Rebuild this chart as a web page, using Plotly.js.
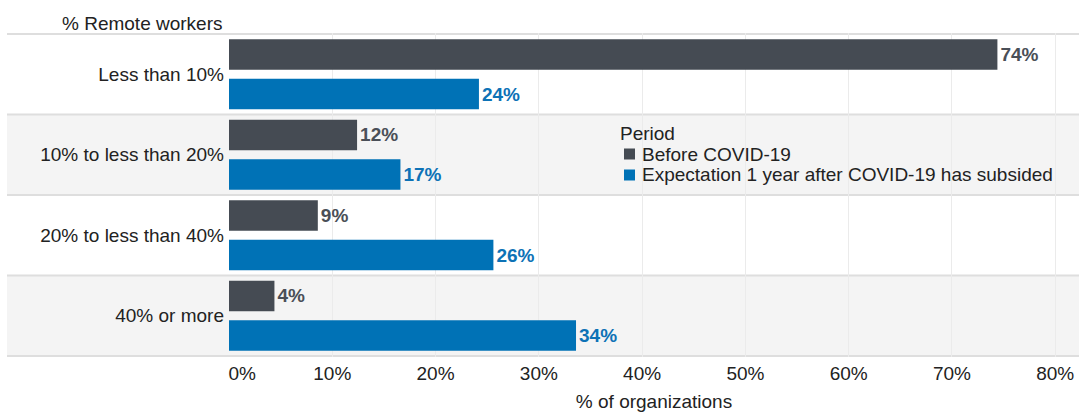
<!DOCTYPE html>
<html>
<head>
<meta charset="utf-8">
<script src="https://cdn.plot.ly/plotly-3.0.1.min.js"></script>
<style>html,body{margin:0;padding:0;background:#fff;}#chart{width:1079px;height:412px;}</style>
</head>
<body>
<div id="chart"></div>
<script>
const categories = ["Less than 10%", "10% to less than 20%", "20% to less than 40%", "40% or more"];
const seriesNames = ["Before COVID-19", "Expectation 1 year after COVID-19 has subsided"];
const beforeValues = [74.4, 12.4, 8.6, 4.4];
const expectValues = [24.2, 16.6, 25.6, 33.6];
const tickValues = [0, 10, 20, 30, 40, 50, 60, 70, 80];
const tickLabels = ["\u00a0\u00a0\u00a0\u00a0\u00a00%", "10%", "20%", "30%", "40%", "50%", "60%", "70%", "80%"];
const legendTitle = "Period";

const FONT = "Liberation Sans, Arial, Helvetica, sans-serif";
const COLORS = ["#454b53", "#0072b6"];
const LABEL_COLORS = ["#4a4f57", "#0d72b6"];

const M = {l: 229, r: 0, t: 33, b: 55};
const PW = 1079 - M.l - M.r, PH = 412 - M.t - M.b;
const px = v => (v - M.l) / PW;
const py = v => 1 - (v - M.t) / PH;

const seriesValues = [beforeValues, expectValues];
const traces = seriesNames.map((name, k) => ({
  type: "bar", orientation: "h", name: name,
  y: categories, x: seriesValues[k],
  marker: {color: COLORS[k]},
  texttemplate: "%{x:.0f}%", textposition: "outside", cliponaxis: false,
  textfont: {family: FONT, size: 19, color: LABEL_COLORS[k], weight: "bold"},
  hoverinfo: "x+y", showlegend: false
}));

const shapes = [];
const bandLeft = px(7);
categories.forEach((c, i) => {
  if (i % 2 === 1) {
    shapes.push({type: "rect", layer: "below", xref: "paper", yref: "y",
      x0: bandLeft, x1: 1, y0: i - 0.5, y1: i + 0.5,
      fillcolor: "#f4f4f4", line: {width: 0}});
  }
});
for (let i = 0; i <= categories.length; i++) {
  shapes.push({type: "line", layer: "below", xref: "paper", yref: "y",
    x0: bandLeft, x1: 1, y0: i - 0.5, y1: i - 0.5,
    line: {color: "#dedede", width: 2}});
}

const annotations = [
  {text: "% Remote workers", xref: "paper", yref: "paper",
   x: px(225), xanchor: "right", y: py(23), yanchor: "middle",
   showarrow: false, font: {family: FONT, size: 19, color: "#222222"}},
  {text: legendTitle, xref: "paper", yref: "paper",
   x: px(618), xanchor: "left", y: py(133), yanchor: "middle",
   showarrow: false, font: {family: FONT, size: 19, color: "#222222"}}
];
const legendRows = [154, 175];
seriesNames.forEach((name, k) => {
  const cy = legendRows[k];
  shapes.push({type: "rect", xref: "paper", yref: "paper", layer: "above",
    x0: px(624), x1: px(635), y0: py(cy - 5.5), y1: py(cy + 5.5),
    fillcolor: COLORS[k], line: {width: 0}});
  annotations.push({text: name, xref: "paper", yref: "paper",
    x: px(640), xanchor: "left", y: py(cy), yanchor: "middle",
    showarrow: false, font: {family: FONT, size: 19, color: "#222222"}});
});

const layout = {
  width: 1079, height: 412,
  margin: {l: M.l, r: M.r, t: M.t, b: M.b, pad: 0},
  paper_bgcolor: "#ffffff",
  plot_bgcolor: "rgba(0,0,0,0)",
  font: {family: FONT, size: 19, color: "#222222"},
  barmode: "group",
  bargap: 0.015,
  bargroupgap: 0.23,
  showlegend: false,
  xaxis: {
    range: [0, 82.3],
    tickmode: "array", tickvals: tickValues, ticktext: tickLabels,
    showgrid: true, gridcolor: "#ebebeb", gridwidth: 1,
    zeroline: false, showline: false,
    ticks: "", ticklen: 0, ticklabelstandoff: 3,
    tickfont: {family: FONT, size: 19, color: "#222222"},
    title: {text: "% of organizations", standoff: 11, font: {family: FONT, size: 19, color: "#222222"}},
    automargin: false,
    fixedrange: true
  },
  yaxis: {
    type: "category",
    autorange: "reversed",
    showgrid: false, zeroline: false, showline: false,
    ticks: "", ticklen: 0, ticklabelstandoff: 4,
    tickfont: {family: FONT, size: 19, color: "#222222"},
    automargin: false,
    fixedrange: true
  },
  shapes: shapes,
  annotations: annotations
};

Plotly.newPlot("chart", traces, layout, {displayModeBar: false});
</script>
</body>
</html>
